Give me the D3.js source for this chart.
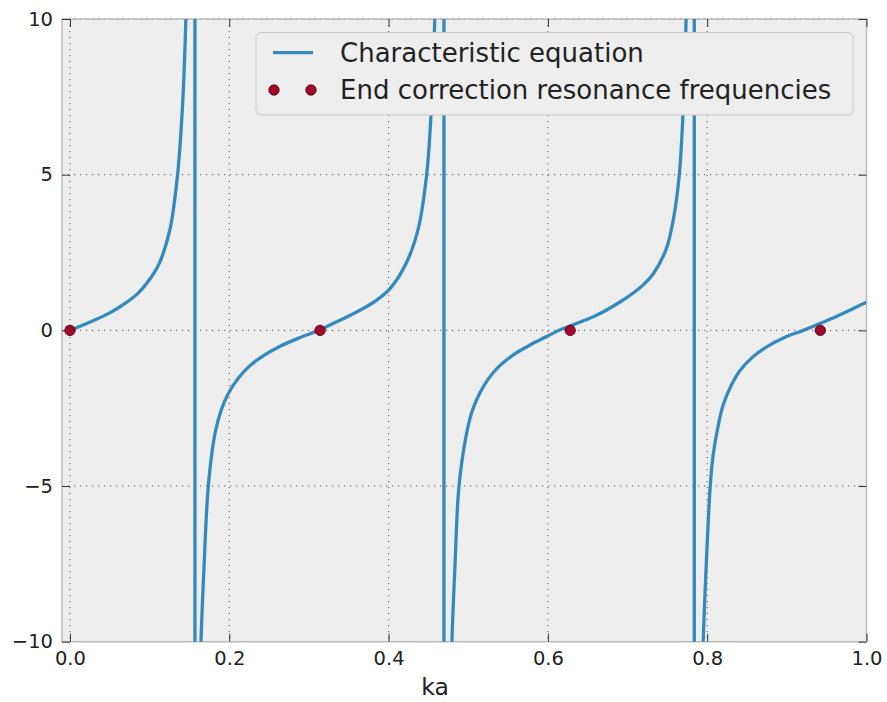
<!DOCTYPE html>
<html>
<head>
<meta charset="utf-8">
<script src="https://cdn.jsdelivr.net/npm/d3@7"></script>
<style>
  body { margin: 0; background: #fff; }
  svg text { font-family: "DejaVu Sans", sans-serif; fill: #222; }
</style>
</head>
<body>
<div id="chart"></div>
<script>
// values, one array pair per branch of the curve
var branch1Ka = [0.000, 0.029, 0.050, 0.071, 0.085, 0.096, 0.106, 0.113, 0.1256, 0.1347, 0.1415, 0.1455, 0.148];
var branch1Y  = [0.00, 0.31, 0.56, 0.90, 1.18, 1.50, 1.86, 2.20, 3.25, 4.90, 7.30, 10.0, 13.0];

var branch2Ka = [0.1620, 0.1645, 0.1683, 0.1737, 0.1820, 0.1900, 0.1988, 0.2110, 0.2239, 0.2425, 0.2615, 0.2870, 0.3126, 0.3327, 0.3515, 0.3680, 0.3850, 0.4018, 0.4227, 0.4373, 0.4478, 0.4532, 0.4580, 0.4605];
var branch2Y  = [-13, -10.0, -7.6, -5.0, -3.32, -2.55, -2.03, -1.55, -1.18, -0.82, -0.54, -0.25, 0.00, 0.25, 0.48, 0.70, 0.97, 1.34, 2.19, 3.27, 5.00, 6.90, 10.0, 13.0];

var branch3Ka = [0.4770, 0.4795, 0.4833, 0.4884, 0.4980, 0.5055, 0.5148, 0.5255, 0.5390, 0.5570, 0.5770, 0.5985, 0.6140, 0.6280, 0.6470, 0.6654, 0.6905, 0.7072, 0.7200, 0.7323, 0.7484, 0.7578, 0.7650, 0.7695, 0.7735, 0.7755];
var branch3Y  = [-13, -10.0, -7.6, -5.0, -3.30, -2.55, -2.00, -1.55, -1.15, -0.78, -0.48, -0.20, 0.00, 0.14, 0.33, 0.54, 0.91, 1.20, 1.47, 1.82, 2.60, 3.60, 5.00, 6.90, 10.0, 13.0];

var branch4Ka = [0.7925, 0.7950, 0.7987, 0.8038, 0.8075, 0.8135, 0.8200, 0.8300, 0.8410, 0.8570, 0.8747, 0.8970, 0.9207, 0.9416, 0.9650, 0.9980, 1.0];
var branch4Y  = [-13, -10.0, -7.6, -5.0, -4.00, -3.10, -2.40, -1.78, -1.30, -0.86, -0.53, -0.23, 0.00, 0.22, 0.48, 0.88, 0.90];

// the line jumps from +inf to -inf at these ka
var jumpKa = [0.1569, 0.4695, 0.7838];

var resonanceKa = [0.000, 0.314, 0.628, 0.942];
var resonanceY  = [0, 0, 0, 0];

var xTicks = [0.0, 0.2, 0.4, 0.6, 0.8, 1.0];
var yTicks = [-10, -5, 0, 5, 10];

var seriesNames = ["Characteristic equation", "End correction resonance frequencies"];

// layout
var width = 887, height = 702;
var plotLeft = 62, plotRight = 866.5, plotTop = 19, plotBottom = 641.7;
var blue = "#348ABD", red = "#A60628";

var x = d3.scaleLinear().domain([-0.01, 1.0]).range([plotLeft, plotRight]);
var y = d3.scaleLinear().domain([-10, 10]).range([plotBottom, plotTop]);

var svg = d3.select("#chart").append("svg")
    .attr("width", width)
    .attr("height", height);

// plot background
svg.append("rect")
    .attr("x", plotLeft).attr("y", plotTop)
    .attr("width", plotRight - plotLeft).attr("height", plotBottom - plotTop)
    .attr("fill", "#eeeeee");

// dotted grid
var grid = svg.append("g").attr("class", "grid")
    .attr("stroke", "#333").attr("stroke-width", 1)
    .attr("stroke-dasharray", "1.2,4.8").attr("opacity", 0.8);
grid.selectAll(".gx").data(xTicks).enter().append("line")
    .attr("x1", d => x(d)).attr("x2", d => x(d))
    .attr("y1", plotTop).attr("y2", plotBottom);
grid.selectAll(".gy").data(yTicks).enter().append("line")
    .attr("x1", plotLeft).attr("x2", plotRight)
    .attr("y1", d => y(d)).attr("y2", d => y(d));

// frame
svg.append("rect")
    .attr("x", plotLeft).attr("y", plotTop)
    .attr("width", plotRight - plotLeft).attr("height", plotBottom - plotTop)
    .attr("fill", "none").attr("stroke", "#bcbcbc").attr("stroke-width", 1.5);

// axes with inward ticks on all sides
function styleAxis(g) {
    g.select(".domain").remove();
    g.selectAll(".tick line").attr("stroke", "#333");
    g.selectAll(".tick text").attr("font-size", "19.5px").attr("fill", "#222");
}
svg.append("g").attr("transform", "translate(0," + plotBottom + ")")
    .call(d3.axisBottom(x).tickValues(xTicks).tickFormat(d3.format(".1f")).tickSize(-8).tickPadding(9))
    .call(styleAxis);
svg.append("g").attr("transform", "translate(0," + plotTop + ")")
    .call(d3.axisTop(x).tickValues(xTicks).tickFormat("").tickSize(-8))
    .call(styleAxis);
svg.append("g").attr("transform", "translate(" + plotLeft + ",0)")
    .call(d3.axisLeft(y).tickValues(yTicks).tickFormat(d3.format("d")).tickSize(-8).tickPadding(9))
    .call(styleAxis);
svg.append("g").attr("transform", "translate(" + plotRight + ",0)")
    .call(d3.axisRight(y).tickValues(yTicks).tickFormat("").tickSize(-8))
    .call(styleAxis);

// clip for the curve
svg.append("clipPath").attr("id", "plot-clip")
    .append("rect")
    .attr("x", plotLeft).attr("y", plotTop)
    .attr("width", plotRight - plotLeft).attr("height", plotBottom - plotTop);

var line = d3.line()
    .x(d => x(d[0]))
    .y(d => y(d[1]))
    .curve(d3.curveCatmullRom.alpha(0.5));

var branches = [
    [branch1Ka, branch1Y],
    [branch2Ka, branch2Y],
    [branch3Ka, branch3Y],
    [branch4Ka, branch4Y]
].map(b => b[0].map((k, i) => [k, b[1][i]]));

var curveG = svg.append("g").attr("clip-path", "url(#plot-clip)");
curveG.selectAll(".branch").data(branches).enter().append("path")
    .attr("class", "branch")
    .attr("d", line)
    .attr("fill", "none")
    .attr("stroke", blue)
    .attr("stroke-width", 3.3)
    .attr("stroke-linejoin", "round");
curveG.selectAll(".jump").data(jumpKa).enter().append("line")
    .attr("class", "jump")
    .attr("x1", d => x(d)).attr("x2", d => x(d))
    .attr("y1", y(12)).attr("y2", y(-12))
    .attr("stroke", blue)
    .attr("stroke-width", 3.3);

// resonance markers
svg.selectAll(".res").data(resonanceKa).enter().append("circle")
    .attr("class", "res")
    .attr("cx", d => x(d))
    .attr("cy", (d, i) => y(resonanceY[i]))
    .attr("r", 5.2)
    .attr("fill", red)
    .attr("stroke", "#3a0010")
    .attr("stroke-width", 0.8);

// legend
var legend = svg.append("g").attr("class", "legend");
legend.append("rect")
    .attr("x", 256).attr("y", 32.5)
    .attr("width", 597).attr("height", 82.5)
    .attr("rx", 5)
    .attr("fill", "#eeeeee")
    .attr("stroke", "#cccccc");
legend.append("line")
    .attr("x1", 273).attr("x2", 313)
    .attr("y1", 52.7).attr("y2", 52.7)
    .attr("stroke", blue).attr("stroke-width", 3.3);
legend.selectAll(".lm").data([274, 311]).enter().append("circle")
    .attr("cx", d => d).attr("cy", 90)
    .attr("r", 5.2)
    .attr("fill", red)
    .attr("stroke", "#3a0010")
    .attr("stroke-width", 0.8);
legend.selectAll(".lt").data(seriesNames).enter().append("text")
    .attr("x", 340)
    .attr("y", (d, i) => 61.5 + i * 37)
    .attr("font-size", "26px")
    .text(d => d);

// x label
svg.append("text")
    .attr("x", 435)
    .attr("y", 695)
    .attr("text-anchor", "middle")
    .attr("font-size", "23.5px")
    .text("ka");
</script>
</body>
</html>
